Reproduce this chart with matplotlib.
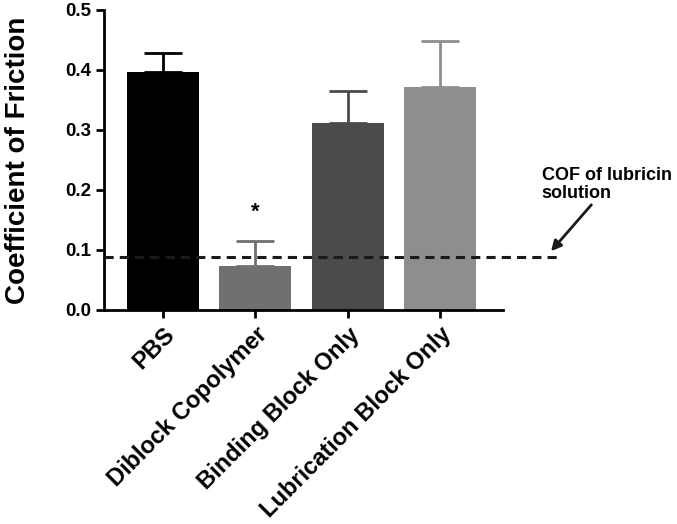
import numpy as np
import matplotlib
matplotlib.use("Agg")
import matplotlib.pyplot as plt

plt.rcParams['font.family'] = ['Liberation Sans', 'DejaVu Sans']
plt.rcParams['font.weight'] = 'bold'

groups = ["PBS", "Diblock Copolymer", "Binding Block Only", "Lubrication Block Only"]
cof_mean = [0.397, 0.074, 0.311, 0.371]
cof_err = [0.031, 0.041, 0.054, 0.078]
bar_colors = ["#000000", "#707070", "#4b4b4b", "#8e8e8e"]
lubricin_cof = 0.088
yticks = [0.0, 0.1, 0.2, 0.3, 0.4, 0.5]

fig = plt.figure(figsize=(6.77, 5.24), dpi=100)
ax = fig.add_axes([104/677, 1 - 310/524, (503-104)/677, 300/524])

x = np.arange(len(groups))
ax.bar(x, cof_mean, width=0.78, color=bar_colors, zorder=2)
for xi, m, e, c in zip(x, cof_mean, cof_err, bar_colors):
    ax.errorbar(xi, m, yerr=[[0], [e]], fmt='none', ecolor=c, elinewidth=2,
                capsize=13.5, capthick=2, zorder=1)

# lubricin reference line, runs past the axis end
ax.plot([-0.64, 4.26], [lubricin_cof, lubricin_cof], ls=(0, (3, 2)), color='#1a1a1a',
        lw=2.2, clip_on=False, zorder=3)

ax.text(1, 0.146, "*", ha='center', va='bottom', fontsize=16, fontweight='bold')
ax.annotate("COF of lubricin\nsolution", xy=(4.2, 0.098), xytext=(4.1, 0.18),
            fontsize=13, fontweight='bold', ha='left', va='bottom', linespacing=1.05,
            annotation_clip=False,
            arrowprops=dict(arrowstyle='-|>', color='#1a1a1a', lw=2, mutation_scale=15,
                            shrinkA=0, shrinkB=0, relpos=(0.4, 0)))

ax.set_xlim(-0.64, 3.68)
ax.set_ylim(0, 0.5)
ax.set_yticks(yticks)
ax.set_yticklabels([f"{t:.1f}" for t in yticks], fontsize=13.5, fontweight='bold')
ax.set_xticks(x)
ax.set_xticklabels(groups, rotation=45, ha='right', rotation_mode='anchor',
                   fontsize=17, fontweight='bold')
ax.set_ylabel("Coefficient of Friction", fontsize=20, fontweight='bold', labelpad=24)

for s in ['top', 'right']:
    ax.spines[s].set_visible(False)
for s in ['left', 'bottom']:
    ax.spines[s].set_linewidth(2)
ax.tick_params(width=2, length=6)

fig.savefig("out.png", dpi=100)
